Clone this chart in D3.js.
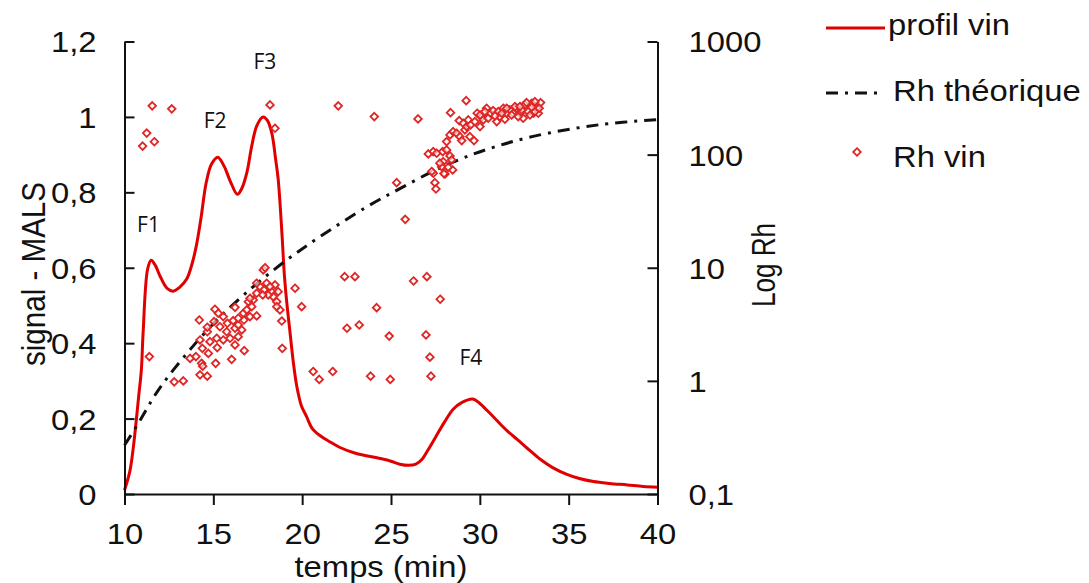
<!DOCTYPE html>
<html>
<head>
<meta charset="utf-8">
<script src="https://cdn.jsdelivr.net/npm/d3@7"></script>
<style>
  html, body { margin: 0; padding: 0; background: #fff; }
  svg { display: block; }
  text { font-family: "Liberation Sans", Arial, sans-serif; fill: #111; }
</style>
</head>
<body>
<svg id="chart" width="1089" height="583"></svg>
<script>
// ---- Data ----
// profil vin (MALS signal, left axis)
const profT = [10.0, 10.3, 10.5, 10.65, 10.8, 10.95, 11.05, 11.3, 11.5, 11.75, 12.0, 12.4, 12.75, 13.1, 13.5, 13.8, 14.05, 14.3, 14.6, 14.9, 15.25, 15.6, 15.95, 16.35, 16.6, 16.9, 17.15, 17.45, 17.8, 18.05, 18.3, 18.5, 18.65, 18.85, 19.0, 19.15, 19.3, 19.5, 19.7, 19.95, 20.25, 20.55, 21.0, 21.5, 22.1, 23.0, 24.4, 25.0, 25.5, 26.0, 26.4, 26.75, 27.1, 27.5, 28.0, 28.5, 29.0, 29.6, 30.0, 30.4, 30.8, 31.2, 31.6, 32.1, 32.7, 33.4, 34.1, 34.9, 35.6, 36.4, 37.3, 38.3, 39.2, 40.0];
const profV = [0.01, 0.06, 0.125, 0.19, 0.26, 0.33, 0.43, 0.596, 0.62, 0.605, 0.578, 0.545, 0.538, 0.548, 0.57, 0.61, 0.66, 0.73, 0.826, 0.875, 0.893, 0.87, 0.83, 0.795, 0.81, 0.855, 0.92, 0.977, 1.0, 0.99, 0.955, 0.89, 0.835, 0.70, 0.58, 0.50, 0.436, 0.35, 0.285, 0.235, 0.205, 0.175, 0.155, 0.14, 0.124, 0.108, 0.094, 0.087, 0.079, 0.076, 0.079, 0.092, 0.118, 0.15, 0.19, 0.225, 0.243, 0.252, 0.24, 0.222, 0.203, 0.183, 0.165, 0.145, 0.12, 0.092, 0.07, 0.052, 0.041, 0.033, 0.028, 0.024, 0.02, 0.018];

// Rh théorique (right log axis)
const theoT = [10.0, 10.65, 11.15, 11.72, 12.75, 15.0, 17.25, 19.13, 21.0, 23.63, 25.5, 27.38, 28.88, 30.38, 33.0, 36.76, 40.0];
const theoRh = [0.27, 0.39, 0.53, 0.75, 1.25, 3.2, 6.8, 11.7, 18.8, 34.5, 50, 71.6, 91, 111, 145, 184, 204];

// Rh vin (right log axis)
const rhT = [11.56, 12.66, 11.25, 11.68, 11.02, 18.19, 18.47, 22.03, 24.06, 26.52, 25.32, 25.8, 28.35, 29.23, 27.47, 27.53,
  22.39, 22.97, 26.27, 27.02, 19.97, 27.77, 24.19, 22.52, 23.21, 24.9, 26.97, 27.19, 20.62, 20.96, 21.72, 23.85, 24.96, 27.25, 11.4, 19.6, 18.88,
  12.80, 13.31, 14.25, 14.66, 14.34, 14.40, 14.02, 13.69, 15.13, 16.03, 16.74, 14.72, 15.22, 14.38, 14.25, 14.81, 14.66, 15.19, 15.56, 15.94,
  16.22, 16.40, 15.75, 15.37, 15.04, 14.66, 14.21, 15.09, 15.28, 15.56, 15.79, 16.22, 16.40, 16.12, 16.60, 16.72, 16.40, 16.22, 16.69, 16.88,
  17.06, 17.44, 17.16, 17.25, 16.97, 17.06, 17.44, 17.63, 17.85, 18.00, 18.28, 18.37, 18.57, 18.75, 18.85, 18.47, 17.81, 17.91, 17.44, 18.09,
  18.65, 18.19, 17.78, 18.57,
  27.10, 27.38, 27.57, 27.91, 28.13, 28.32, 27.94, 27.85, 28.04, 28.47, 28.22, 28.41, 27.38, 28.13, 28.32, 28.50, 28.69, 28.88, 28.98, 29.16,
  29.44, 29.67, 28.84, 29.07, 29.26, 29.35, 29.48, 29.72, 29.85, 30.10, 30.38, 30.57, 30.75, 30.95, 31.04, 31.32, 31.51, 31.69, 31.88, 32.07,
  32.26, 32.44, 32.54, 32.72, 32.92, 33.01, 33.20, 33.29, 33.42, 33.10, 32.63, 31.98, 31.13, 30.19, 30.01, 27.75, 27.29, 27.98,
  30.01, 30.29, 30.47, 30.85, 31.23, 31.41, 31.79, 32.16, 32.35, 32.82, 33.10, 33.34, 32.26, 32.92, 31.51];
const rhV = [270, 254, 155, 130, 119, 275, 171, 270, 217, 207, 56.5, 26.8, 235, 300, 56.5, 49.7,
  8.34, 8.34, 7.64, 8.34, 4.53, 5.27, 4.44, 2.92, 3.12, 2.49, 2.55, 1.62, 1.21, 1.03, 1.21, 1.10, 1.03, 1.10, 1.64, 6.59, 1.94,
  0.98, 1.00, 1.13, 1.10, 1.43, 1.35, 1.64, 1.58, 1.43, 1.55, 1.85, 1.75, 1.97, 1.94, 2.30, 2.22, 2.72, 2.38, 2.30, 2.38,
  2.08, 2.46, 2.72, 3.01, 3.34, 2.98, 3.45, 4.30, 3.96, 3.70, 3.23, 2.92, 3.12, 3.41, 2.82, 3.45, 3.58, 4.47, 3.96, 4.24,
  3.70, 3.75, 4.53, 5.19, 5.01, 5.37, 5.95, 6.81, 6.37, 7.30, 6.15, 5.55, 5.01, 4.24, 3.38, 7.05, 9.56, 10.0, 7.30, 5.75,
  6.15, 6.81, 5.75, 4.53,
  101.4, 106.3, 102.9, 106.3, 110.0, 97.4, 86.7, 78.3, 67.5, 73.2, 77.4, 89.8, 68.5, 130.3, 149.4, 159.7, 154.6, 144.2, 133, 165.4,
  144.2, 133, 199.8, 189.5, 176.9, 202.7, 183, 195.8, 232.3, 214.2, 257.2, 232.3, 244.9, 195.8, 240, 257.2, 232.3, 248.5, 232.3, 257.2,
  232.3, 209.8, 275, 240, 284.7, 232.3, 257.2, 232.3, 288.2, 294.1, 288.2, 265.7, 216.8, 202.7, 176.9, 84.0, 71.0, 68.0,
  224, 240, 210, 220, 232, 205.6, 224, 217, 248, 224, 240, 257, 266, 262.5, 257];

const xTicks = [10, 15, 20, 25, 30, 35, 40];
const yTicks = [0, 0.2, 0.4, 0.6, 0.8, 1.0, 1.2];
const yTickLabels = ["0", "0,2", "0,4", "0,6", "0,8", "1", "1,2"];
const rTicks = [0.1, 1, 10, 100, 1000];
const rTickLabels = ["0,1", "1", "10", "100", "1000"];
const peakLabels = ["F1", "F2", "F3", "F4"];
const peakT = [11.35, 15.1, 17.9, 29.5];
const peakV = [0.695, 0.97, 1.126, 0.343];
const seriesNames = ["profil vin", "Rh théorique", "Rh vin"];

// ---- Layout ----
const X0 = 124.5, X1 = 657.5, Y0 = 494, Y1 = 41.5;
const FS = 29, SX = 1.13;
const RED = "#e00000", MRED = "#e02525";

const svg = d3.select("#chart");
const x = d3.scaleLinear().domain([10, 40]).range([X0, X1]);
const y = d3.scaleLinear().domain([0, 1.2]).range([Y0, Y1]);
const yr = d3.scaleLog().domain([0.1, 1000]).range([Y0, Y1]);

// Profile line
const prof = profT.map((t, i) => [t, profV[i]]);
svg.append("path")
  .datum(prof)
  .attr("fill", "none").attr("stroke", RED).attr("stroke-width", 3)
  .attr("stroke-linejoin", "round")
  .attr("d", d3.line().x(d => x(d[0])).y(d => y(d[1])).curve(d3.curveCatmullRom.alpha(0.5)));

// Theoretical Rh
const theo = theoT.map((t, i) => [t, theoRh[i]]);
const dash = "12,7,3,7";
svg.append("path")
  .datum(theo)
  .attr("fill", "none").attr("stroke", "#111").attr("stroke-width", 3)
  .attr("stroke-dasharray", dash)
  .attr("d", d3.line().x(d => x(d[0])).y(d => yr(d[1])).curve(d3.curveCatmullRom.alpha(0.5)));

// Scatter
const diamond = r => `M0,${-r}L${r},0L0,${r}L${-r},0Z`;
svg.append("g").selectAll("path")
  .data(rhT.map((t, i) => [t, rhV[i]]))
  .join("path")
  .attr("transform", d => `translate(${x(d[0])},${yr(d[1])})`)
  .attr("d", diamond(3.8))
  .attr("fill", "#fff").attr("fill-opacity", 0.6)
  .attr("stroke", MRED).attr("stroke-width", 1.8);

// Axes
function styleAxis(g) {
  g.select(".domain").attr("stroke", "#111").attr("stroke-width", 2);
  g.selectAll(".tick line").attr("stroke", "#111").attr("stroke-width", 2);
  g.selectAll("text").style("font-family", '"Liberation Sans", Arial, sans-serif')
    .attr("font-size", FS).attr("fill", "#111");
}

const gx = svg.append("g").attr("transform", `translate(0,${Y0})`)
  .call(d3.axisBottom(x).tickValues(xTicks).tickSizeInner(11).tickSizeOuter(0).tickFormat(d => String(d)));
styleAxis(gx);
gx.selectAll("text").attr("y", 0).attr("dy", null)
  .attr("transform", `translate(0,49.5) scale(${SX},1)`);

const gy = svg.append("g").attr("transform", `translate(${X0},0)`)
  .call(d3.axisLeft(y).tickValues(yTicks).tickSizeInner(-10).tickSizeOuter(0)
    .tickFormat((d, i) => yTickLabels[i]));
styleAxis(gy);
gy.selectAll("text").attr("x", 0).attr("dy", "0.36em")
  .attr("transform", `translate(-28,0) scale(${SX},1)`);

const gr = svg.append("g").attr("transform", `translate(${X1},0)`)
  .call(d3.axisRight(yr).tickValues(rTicks).tickSizeInner(-10).tickSizeOuter(0)
    .tickFormat((d, i) => rTickLabels[i]));
styleAxis(gr);
gr.selectAll("text").attr("x", 0).attr("dy", "0.36em")
  .attr("transform", `translate(31,0) scale(${SX},1)`);

// Axis titles
svg.append("text")
  .attr("transform", `translate(381,576.5) scale(${SX},1)`)
  .attr("text-anchor", "middle").attr("font-size", FS).text("temps (min)");
svg.append("text")
  .attr("transform", `translate(45,274) rotate(-90) scale(1.02,${SX})`)
  .attr("text-anchor", "middle").attr("font-size", FS).text("signal - MALS");
svg.append("text")
  .attr("transform", `translate(775,265) rotate(-90) scale(0.9,${SX})`)
  .attr("text-anchor", "middle").attr("font-size", FS).text("Log Rh");

// Peak labels
svg.append("g").selectAll("text")
  .data(peakLabels)
  .join("text")
  .attr("x", (d, i) => x(peakT[i]))
  .attr("y", (d, i) => y(peakV[i]))
  .attr("text-anchor", "middle")
  .style("font-family", '"Open Sans", "Noto Sans", sans-serif')
  .attr("font-size", 21)
  .text(d => d);

// Legend
const lg = svg.append("g");
lg.append("line").attr("x1", 826).attr("x2", 885).attr("y1", 28).attr("y2", 28)
  .attr("stroke", RED).attr("stroke-width", 3);
lg.append("line").attr("x1", 826).attr("x2", 880).attr("y1", 93).attr("y2", 93)
  .attr("stroke", "#111").attr("stroke-width", 3).attr("stroke-dasharray", dash);
lg.append("path").attr("transform", "translate(857,152)").attr("d", diamond(3.8))
  .attr("fill", "#fff").attr("stroke", MRED).attr("stroke-width", 1.8);
const legY = [35, 101, 167];
const legX = [888, 893, 893];
seriesNames.forEach((n, i) => {
  lg.append("text").attr("transform", `translate(${legX[i]},${legY[i]}) scale(${SX},1)`)
    .attr("font-size", FS).text(n);
});
</script>
</body>
</html>
